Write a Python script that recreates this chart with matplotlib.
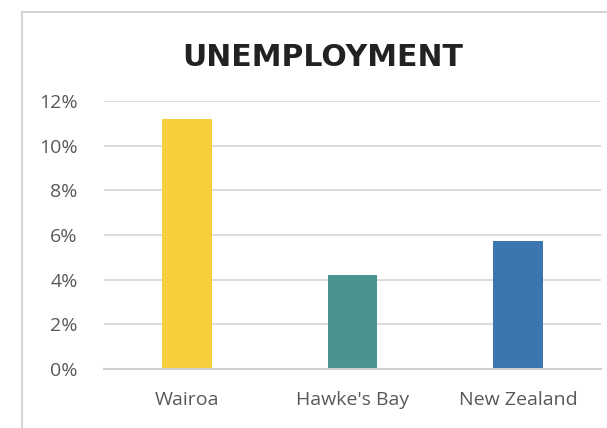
import matplotlib
matplotlib.use("Agg")
import matplotlib.pyplot as plt
from matplotlib.patches import Rectangle
from matplotlib.ticker import FuncFormatter

categories = ["Wairoa", "Hawke's Bay", "New Zealand"]
values = [11.2, 4.2, 5.75]
colors = ["#F7CF3D", "#4B9390", "#3B76B0"]
yticks = [0, 2, 4, 6, 8, 10, 12]

W, H = 607, 428
fig = plt.figure(figsize=(W / 100, H / 100), dpi=100)
fig.patch.set_facecolor("white")

# outer chart frame
fig.patches.append(Rectangle((22 / W, -0.1), 2, (H - 12) / H + 0.1,
                             transform=fig.transFigure, fill=False,
                             edgecolor="#D4D4D4", linewidth=1.5))

ax = fig.add_axes([104 / W, (H - 369) / H, (601 - 104) / W, (369 - 101) / H])
x = list(range(len(categories)))
ax.bar(x, values, width=0.30, color=colors, zorder=3)
ax.set_xlim(-0.5, 2.5)
ax.set_ylim(0, 12)
ax.set_yticks(yticks)
ax.yaxis.set_major_formatter(FuncFormatter(lambda v, p: f"{int(v)}%"))
ax.set_xticks(x)
ax.set_xticklabels(categories)
for s in ["top", "right", "left"]:
    ax.spines[s].set_visible(False)
ax.spines["bottom"].set_color("#D0D0D0")
ax.spines["bottom"].set_linewidth(1.5)
ax.spines["bottom"].set_zorder(4)
ax.grid(axis="y", color="#D9D9D9", linewidth=1.3, zorder=0)
ax.tick_params(axis="y", length=0, pad=19, labelsize=14, labelcolor="#595959")
ax.tick_params(axis="x", length=0, pad=16, labelsize=14, labelcolor="#595959")
for lab in ax.get_xticklabels() + ax.get_yticklabels():
    lab.set_fontfamily("Open Sans")

fig.text(323 / W, 1 - 58 / H, "UNEMPLOYMENT", ha="center", va="center",
         fontsize=21.5, fontweight="bold", color="#222222", family="DejaVu Sans")

fig.savefig("out.png", dpi=100)
